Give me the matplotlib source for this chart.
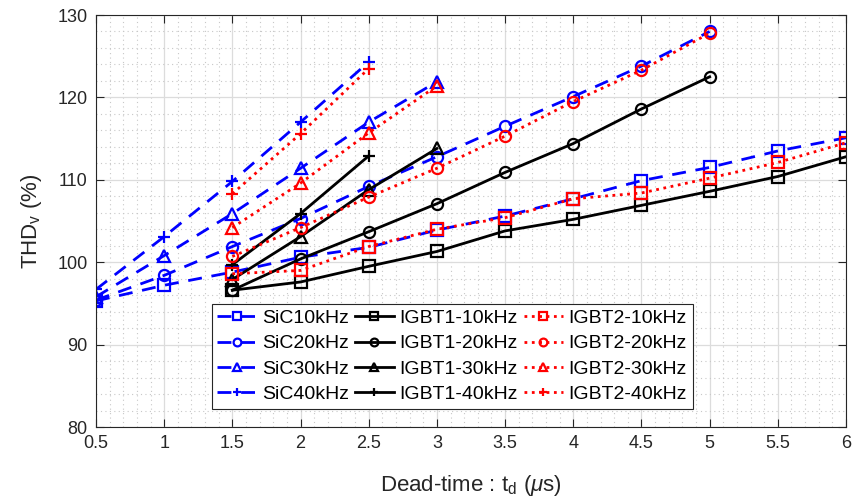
import matplotlib
matplotlib.use('Agg')
import matplotlib.pyplot as plt
from matplotlib.ticker import MultipleLocator

plt.rcParams['font.family'] = ['Liberation Sans', 'DejaVu Sans']
plt.rcParams['mathtext.fontset'] = 'custom'
plt.rcParams['mathtext.rm'] = 'Liberation Sans'
plt.rcParams['mathtext.it'] = 'Liberation Sans:italic'

# dead-time values (us)
td_sic = [0.5, 1, 1.5, 2, 2.5, 3, 3.5, 4, 4.5, 5, 5.5, 6]
td_igbt = [1.5, 2, 2.5, 3, 3.5, 4, 4.5, 5, 5.5, 6]

# THD (%) - SiC
sic10 = [95.3, 97.2, 98.8, 100.6, 101.8, 103.9, 105.6, 107.7, 109.9, 111.5, 113.5, 115.1]
sic20 = [95.4, 98.4, 101.9, 105.3, 109.2, 112.8, 116.5, 120.1, 123.8, 128.0]
sic30 = [95.8, 100.8, 105.9, 111.4, 117.0, 121.9]
sic40 = [96.7, 103.1, 109.8, 117.0, 124.3]

# THD (%) - IGBT1
igbt1_10 = [96.6, 97.6, 99.5, 101.3, 103.8, 105.2, 106.9, 108.6, 110.4, 112.8]
igbt1_20 = [96.6, 100.4, 103.7, 107.1, 110.9, 114.4, 118.6, 122.5]
igbt1_30 = [97.9, 103.1, 108.8, 113.8]
igbt1_40 = [99.7, 105.9, 112.9]

# THD (%) - IGBT2
igbt2_10 = [98.6, 99.0, 101.9, 104.0, 105.4, 107.7, 108.4, 110.2, 112.1, 114.5]
igbt2_20 = [100.7, 104.2, 107.9, 111.4, 115.3, 119.5, 123.3, 127.8]
igbt2_30 = [104.2, 109.6, 115.7, 121.4]
igbt2_40 = [108.3, 115.6, 123.5]

fig = plt.figure(figsize=(8.52, 5.01), dpi=100)
ax = fig.add_axes([96 / 852, 1 - 427 / 501, 750 / 852, 412 / 501])

mk = dict(markersize=8, markeredgewidth=1.6, fillstyle='none', linewidth=2)
sic_style = dict(color='#0000ff', dashes=(5, 3.5), **mk)
igbt1_style = dict(color='black', linestyle='-', **mk)
igbt2_style = dict(color='#ff0000', linestyle=':', **mk)

ax.plot(td_sic, sic10, marker='s', label='SiC10kHz', **sic_style)
ax.plot(td_sic[:len(sic20)], sic20, marker='o', label='SiC20kHz', **sic_style)
ax.plot(td_sic[:len(sic30)], sic30, marker='^', label='SiC30kHz', **sic_style)
ax.plot(td_sic[:len(sic40)], sic40, marker='+', label='SiC40kHz', **sic_style)

ax.plot(td_igbt, igbt1_10, marker='s', label='IGBT1-10kHz', **igbt1_style)
ax.plot(td_igbt[:len(igbt1_20)], igbt1_20, marker='o', label='IGBT1-20kHz', **igbt1_style)
ax.plot(td_igbt[:len(igbt1_30)], igbt1_30, marker='^', label='IGBT1-30kHz', **igbt1_style)
ax.plot(td_igbt[:len(igbt1_40)], igbt1_40, marker='+', label='IGBT1-40kHz', **igbt1_style)

ax.plot(td_igbt, igbt2_10, marker='s', label='IGBT2-10kHz', **igbt2_style)
ax.plot(td_igbt[:len(igbt2_20)], igbt2_20, marker='o', label='IGBT2-20kHz', **igbt2_style)
ax.plot(td_igbt[:len(igbt2_30)], igbt2_30, marker='^', label='IGBT2-30kHz', **igbt2_style)
ax.plot(td_igbt[:len(igbt2_40)], igbt2_40, marker='+', label='IGBT2-40kHz', **igbt2_style)

ax.set_xlim(0.5, 6)
ax.set_ylim(80, 130)
ax.xaxis.set_minor_locator(MultipleLocator(0.1))
ax.yaxis.set_major_locator(MultipleLocator(10))
ax.yaxis.set_minor_locator(MultipleLocator(2))
ax.set_xticks(td_sic)
ax.set_xticklabels(['0.5', '1', '1.5', '2', '2.5', '3', '3.5', '4', '4.5', '5', '5.5', '6'])

ax.grid(True, which='major', color='#dcdcdc', linewidth=0.9)
ax.grid(True, which='minor', color='#c8c8c8', linestyle=(0, (1, 3)), linewidth=0.8)
ax.set_axisbelow(True)
ax.tick_params(which='both', direction='in', top=True, right=True, colors='#262626',
               labelsize=13, length=6, pad=6)
ax.tick_params(which='minor', length=0)
for s in ax.spines.values():
    s.set_color('#262626')
    s.set_linewidth(0.8)

ax.set_xlabel('Dead-time : t$_\\mathrm{d}$ ($\\mu$s)', fontsize=16, color='#262626', labelpad=15)
ax.set_ylabel('THD$_\\mathrm{v}$ (%)', fontsize=16, color='#262626', labelpad=10)

leg = ax.legend(ncol=3, loc='lower center', bbox_to_anchor=(0.475, 0.02), fontsize=14,
                handlelength=2.0, handletextpad=0.3, columnspacing=0.3, labelspacing=0.4,
                borderpad=0.3, fancybox=False, framealpha=1, edgecolor='#262626',
                markerscale=0.7)
leg.get_frame().set_linewidth(0.8)

fig.savefig('out.png', dpi=100)
